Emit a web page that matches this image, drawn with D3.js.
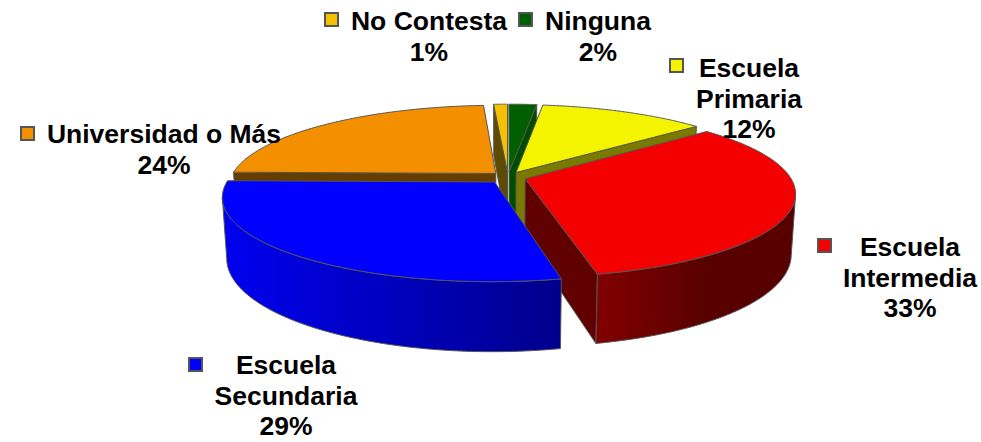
<!DOCTYPE html>
<html><head><meta charset="utf-8">
<script src="https://cdn.jsdelivr.net/npm/d3@7"></script>
<style>html,body{margin:0;padding:0;background:#fff}svg{display:block}text{font-family:"Liberation Sans",Arial,sans-serif;font-weight:700;fill:#000}</style>
</head><body>
<svg id="c" width="981" height="442"></svg>
<script>
const categories = ["Ninguna","Escuela Primaria","Escuela Intermedia","Escuela Secundaria","Universidad o Más","No Contesta"];
const values = [2,12,33,29,24,1];
const labelLines = [["Ninguna"],["Escuela","Primaria"],["Escuela","Intermedia"],["Escuela","Secundaria"],["Universidad o Más"],["No Contesta"]];
const topColors = ["#006000","#f4f400","#f40000","#0000ff","#f49000","#f5c000"];
const faceColors = ["#004d00","#7a7a00","#600000","#00008b","#663d00","#5f4b00"];
const wallStart = ["#004d00","#7a7a00","#820000","#0000f0","#663d00","#5f4b00"];
const wallEnd = ["#004d00","#7a7a00","#580000","#00008b","#663d00","#5f4b00"];
// slice pull-out, one per category
const explodes = [17,17,18,21,17,17];
// label layout: legend key left/top, text centre x, first baseline
const labelLayout = [
 {kx:518,ky:12,cx:598,by:30},{kx:669,ky:58,cx:749,by:77},{kx:817,ky:238,cx:910,by:256},
 {kx:188,ky:357,cx:286,by:374},{kx:20,ky:126,cx:164,by:143},{kx:324,ky:12,cx:429,by:30}];

const W=981,H=442,cx=508,cy=177,R=265,k=0.17,tilt=0.305,depth=60,m=0.00025;
const svg=d3.select("#c");
const defs=svg.append("defs");
const pieGen=d3.pie().sort(null).startAngle(0).endAngle(2*Math.PI)(values);

function project(X,Z,h){
  const s=1/(1-k*Z/R+m*h);
  return [cx+X*s, cy+(Z*tilt+h)*s];
}
function pt(d,theta,r,h){
  const mid=(d.startAngle+d.endAngle)/2, e=explodes[d.index];
  const X=Math.sin(mid)*e+Math.sin(theta)*r;
  const Z=-Math.cos(mid)*e-Math.cos(theta)*r;
  return project(X,Z,h);
}
const line=d3.line();
const arcPts=(d,h,a0,a1)=>d3.range(0,121).map(i=>pt(d,a0+(a1-a0)*i/120,R,h));
const stroke="#555";

function drawFace(d,theta,color,g){
  g.append("path").attr("d",line([pt(d,theta,0,0),pt(d,theta,R,0),pt(d,theta,R,depth),pt(d,theta,0,depth)])+"Z")
   .attr("fill",color).attr("stroke",stroke).attr("stroke-width",1);
}
function drawTop(d,i,g){
  g.append("path").attr("d",line([pt(d,0,0,0),...arcPts(d,0,d.startAngle,d.endAngle)])+"Z")
   .attr("fill",topColors[i]).attr("stroke",stroke).attr("stroke-width",1);
}
// outer wall only where it faces the viewer: cut the arc at its horizontal extreme
function drawWall(d,i,g,a0,a1,side){
  let a=arcPts(d,0,a0,a1),b=arcPts(d,depth,a0,a1);
  const topX=a.map(p=>p[0]);
  if(side>0){const n=d3.maxIndex(topX);a=a.slice(n);b=b.slice(n);}
  else{const n=d3.minIndex(topX);a=a.slice(0,n+1);b=b.slice(0,n+1);}
  b.reverse();
  const xs=a.concat(b).map(p=>p[0]);
  const id="w"+i;
  const lg=defs.append("linearGradient").attr("id",id).attr("gradientUnits","userSpaceOnUse")
    .attr("x1",d3.min(xs)).attr("x2",d3.max(xs)).attr("y1",0).attr("y2",0);
  lg.append("stop").attr("offset",0).attr("stop-color",wallStart[i]);
  if(i===2) lg.append("stop").attr("offset",0.55).attr("stop-color",wallEnd[i]);
  lg.append("stop").attr("offset",1).attr("stop-color",wallEnd[i]);
  g.append("path").attr("d",line(a.concat(b))+"Z").attr("fill",`url(#${id})`).attr("stroke",stroke).attr("stroke-width",1);
}
const g=svg.append("g");
const [nin,pri,inter,sec,uni,noc]=pieGen;
// back to front
drawFace(nin,nin.endAngle,faceColors[0],g); drawTop(nin,0,g);
drawFace(noc,noc.startAngle,faceColors[5],g); drawTop(noc,5,g);
drawFace(uni,uni.startAngle,faceColors[4],g); drawTop(uni,4,g);
drawFace(pri,pri.endAngle,faceColors[1],g); drawTop(pri,1,g);
drawFace(inter,inter.endAngle,faceColors[2],g);
drawWall(inter,2,g,inter.startAngle,inter.endAngle,1);
drawTop(inter,2,g);
drawWall(sec,3,g,sec.startAngle,sec.endAngle,-1);
drawTop(sec,3,g);

// labels
const fs=26.5;
categories.forEach((c,i)=>{
  const L=labelLayout[i];
  const lg=svg.append("g");
  lg.append("rect").attr("x",L.kx+1).attr("y",L.ky+1).attr("width",13).attr("height",13)
    .attr("fill",topColors[i]).attr("stroke",stroke).attr("stroke-width",2);
  labelLines[i].concat([values[i]+"%"]).forEach((t,j)=>{
    lg.append("text").attr("x",L.cx).attr("y",L.by+j*30.7).attr("text-anchor","middle")
      .attr("font-size",fs).text(t);
  });
});
</script>
</body></html>
